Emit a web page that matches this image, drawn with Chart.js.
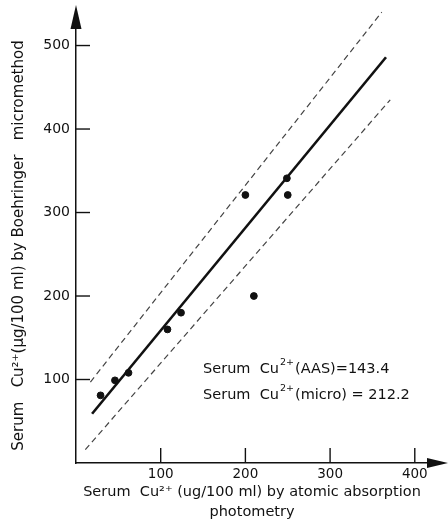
<!DOCTYPE html>
<html>
<head>
<meta charset="utf-8">
<script src="https://cdn.jsdelivr.net/npm/chart.js@4/dist/chart.umd.min.js"></script>
<style>
  html, body { margin: 0; padding: 0; background: #ffffff; }
  #wrap { width: 448px; height: 524px; }
</style>
</head>
<body>
<div id="wrap"><canvas id="c" width="448" height="524"></canvas></div>
<script>
// Measured points: serum Cu2+ by AAS (x) vs Boehringer micromethod (y)
const aasValues   = [29, 46, 62, 108, 124, 200, 210, 249, 250];
const microValues = [81, 99, 108, 160, 180, 321, 200, 341, 321];

// Regression line and confidence band end points
const fitX   = [19, 366];
const fitY   = [59, 486];
const upperX = [17, 361];
const upperY = [97, 540];
const lowerX = [11, 371];
const lowerY = [16, 435];

// Axis tick labels
const xTickValues = [100, 200, 300, 400];
const yTickValues = [100, 200, 300, 400, 500];

// Annotation lines: [prefix, superscript, suffix]
const noteLines = [
  ['Serum  Cu', '2+', '(AAS)=143.4'],
  ['Serum  Cu', '2+', '(micro) = 212.2']
];
const noteAnchor = { x: 150, y: 112 };   // data coordinates of first line start

const FONT = '"DejaVu Sans", sans-serif';

const toPts = (xs, ys) => xs.map((x, i) => ({ x: x, y: ys[i] }));

const decorPlugin = {
  id: 'decor',
  afterDraw(chart) {
    const ctx = chart.ctx;
    const xs = chart.scales.x, ys = chart.scales.y;
    const area = chart.chartArea;
    ctx.save();
    ctx.strokeStyle = '#111';
    ctx.fillStyle = '#111';
    ctx.lineWidth = 1.4;
    // tick marks pointing inward
    xTickValues.forEach(v => {
      const px = xs.getPixelForValue(v);
      ctx.beginPath(); ctx.moveTo(px, area.bottom); ctx.lineTo(px, area.bottom - 15); ctx.stroke();
    });
    yTickValues.forEach(v => {
      const py = ys.getPixelForValue(v);
      ctx.beginPath(); ctx.moveTo(area.left, py); ctx.lineTo(area.left + 14, py); ctx.stroke();
    });
    // arrow heads
    ctx.beginPath();
    ctx.moveTo(area.left - 5.5, area.top + 1);
    ctx.lineTo(area.left + 5.5, area.top + 1);
    ctx.lineTo(area.left, area.top - 23);
    ctx.closePath(); ctx.fill();
    ctx.beginPath();
    ctx.moveTo(area.right - 1, area.bottom - 5);
    ctx.lineTo(area.right - 1, area.bottom + 5);
    ctx.lineTo(area.right + 20, area.bottom);
    ctx.closePath(); ctx.fill();
    // annotation text
    ctx.textBaseline = 'middle';
    ctx.textAlign = 'left';
    let py = ys.getPixelForValue(noteAnchor.y);
    const px0 = xs.getPixelForValue(noteAnchor.x);
    noteLines.forEach(line => {
      let px = px0;
      ctx.font = '14.5px ' + FONT;
      ctx.fillText(line[0], px, py);
      px += ctx.measureText(line[0]).width + 1;
      ctx.font = '9.5px ' + FONT;
      ctx.fillText(line[1], px, py - 6.5);
      px += ctx.measureText(line[1]).width + 1;
      ctx.font = '14.5px ' + FONT;
      ctx.fillText(line[2], px, py);
      py += 26;
    });
    ctx.restore();
  }
};

new Chart(document.getElementById('c'), {
  type: 'scatter',
  data: {
    datasets: [
      {
        label: 'Samples',
        data: toPts(aasValues, microValues),
        backgroundColor: '#111',
        borderColor: '#111',
        pointRadius: 3.4,
        clip: false
      },
      {
        label: 'Regression',
        type: 'line',
        data: toPts(fitX, fitY),
        borderColor: '#111',
        borderWidth: 2.6,
        pointRadius: 0,
        fill: false,
        clip: false
      },
      {
        label: 'Upper limit',
        type: 'line',
        data: toPts(upperX, upperY),
        borderColor: '#444',
        borderWidth: 1.2,
        borderDash: [6, 4],
        pointRadius: 0,
        fill: false,
        clip: false
      },
      {
        label: 'Lower limit',
        type: 'line',
        data: toPts(lowerX, lowerY),
        borderColor: '#444',
        borderWidth: 1.2,
        borderDash: [6, 4],
        pointRadius: 0,
        fill: false,
        clip: false
      }
    ]
  },
  plugins: [decorPlugin],
  options: {
    responsive: false,
    animation: false,
    layout: { padding: { top: 28, right: 20, left: 0, bottom: 0 } },
    plugins: { legend: { display: false }, tooltip: { enabled: false } },
    scales: {
      x: {
        type: 'linear',
        min: 0,
        max: 415.6,
        afterFit(s) { s.height = 61; },
        grid: { display: false, drawTicks: false },
        border: { display: true, color: '#111', width: 1.5 },
        ticks: {
          stepSize: 100,
          includeBounds: false,
          autoSkip: false,
          maxRotation: 0,
          padding: 3,
          color: '#111',
          font: { family: FONT, size: 13.5, lineHeight: 1.2 },
          callback: v => (xTickValues.includes(v) ? String(v) : '')
        },
        title: {
          display: true,
          text: ['Serum  Cu²⁺ (ug/100 ml) by atomic absorption', 'photometry'],
          color: '#111',
          font: { family: FONT, size: 14.5, lineHeight: '20px' },
          padding: { top: 0, bottom: 2 }
        }
      },
      y: {
        type: 'linear',
        min: 0,
        max: 521,
        afterFit(s) { s.width = 76; },
        grid: { display: false, drawTicks: false },
        border: { display: true, color: '#111', width: 1.5 },
        ticks: {
          stepSize: 100,
          includeBounds: false,
          autoSkip: false,
          padding: 6,
          color: '#111',
          font: { family: FONT, size: 14 },
          callback: v => (yTickValues.includes(v) ? String(v) : '')
        },
        title: {
          display: true,
          text: 'Serum   Cu²⁺(µg/100 ml) by Boehringer   micromethod',
          color: '#111',
          font: { family: FONT, size: 15, lineHeight: 1.2 },
          padding: { top: 10, bottom: 0 }
        }
      }
    }
  }
});
</script>
</body>
</html>
